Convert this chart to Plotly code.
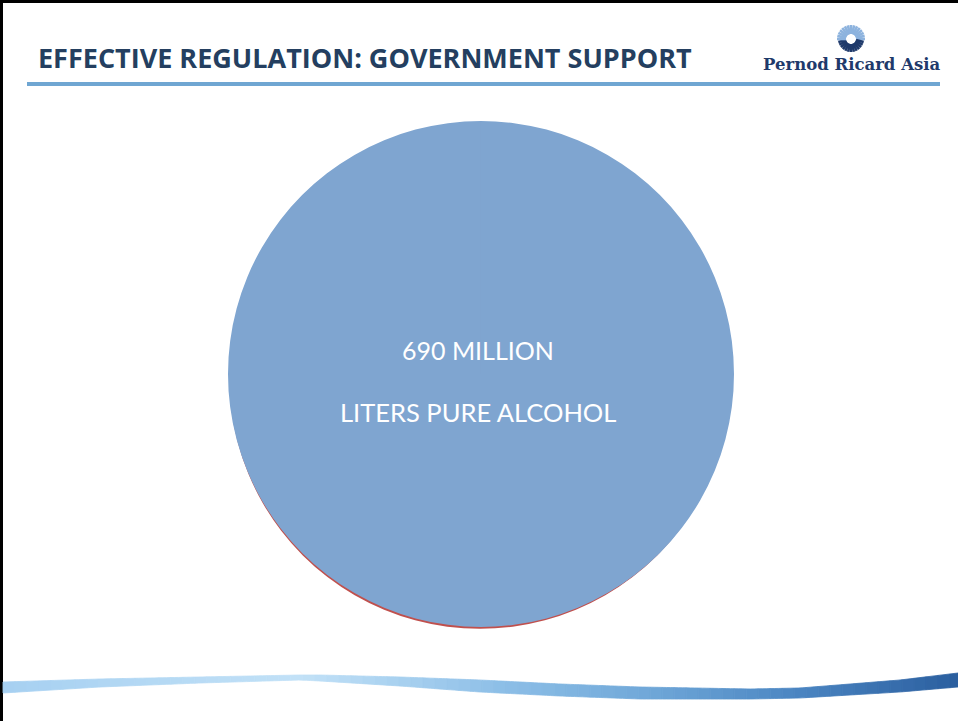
import numpy as np
import plotly.graph_objects as go

# ---- data ----
categories = ["Total consumption", "Other"]
values = [690, 0.0]
title_text = "EFFECTIVE REGULATION: GOVERNMENT SUPPORT"
label_lines = ["690 MILLION", "LITERS PURE ALCOHOL"]
logo_text = "Pernod Ricard Asia"

W, H = 958, 721
def px(x): return x / W
def py(y): return 1 - y / H

fig = go.Figure()

# thin red rim visible under the bottom edge
rc_x, rc_y, rr = 480.0, 378.2, 250.6
fig.add_trace(go.Pie(labels=categories, values=[values[0], 0.0001], sort=False,
                     marker=dict(colors=["#C0504D", "#C0504D"], line=dict(width=0)),
                     textinfo="none", hoverinfo="skip", showlegend=False,
                     domain=dict(x=[px(rc_x - rr), px(rc_x + rr)], y=[py(rc_y + rr), py(rc_y - rr)])))
fig.add_trace(go.Pie(labels=categories, values=[values[0], values[1] + 0.0001], sort=False,
                     marker=dict(colors=["#7FA5D0", "#C0504D"], line=dict(width=0)),
                     textinfo="none", hoverinfo="label+value", showlegend=False,
                     domain=dict(x=[px(228), px(734)], y=[py(627), py(121)])))

shapes = []
# slide frame (top & left)
shapes.append(dict(type="line", xref="paper", yref="paper", x0=0, x1=1, y0=py(1.5), y1=py(1.5),
                   line=dict(color="black", width=3)))
shapes.append(dict(type="line", xref="paper", yref="paper", x0=px(1.5), x1=px(1.5), y0=0, y1=1,
                   line=dict(color="black", width=3)))
# rule under title
shapes.append(dict(type="line", xref="paper", yref="paper", x0=px(27), x1=px(940), y0=py(84), y1=py(84),
                   line=dict(color="#6FA6D2", width=4)))

# logo sunburst
cx, cyl = 851, 39
for k in range(28):
    ang = 2 * np.pi * k / 28
    dx, dy = np.cos(ang), np.sin(ang)
    col = "#1F3A6B" if dy > 0.05 else "#8DB3DE"
    r0, r1 = (5, 13) if dy > 0.05 else (5, 14)
    shapes.append(dict(type="line", xref="paper", yref="paper",
                       x0=px(cx + r0 * dx), y0=py(cyl + r0 * dy), x1=px(cx + r1 * dx), y1=py(cyl + r1 * dy),
                       line=dict(color=col, width=2.6)))

# decorative swoosh at bottom
kx = np.array([3, 100, 200, 300, 320, 400, 480, 560, 640, 750, 800, 900, 958])
kt = np.array([682, 679, 677, 675, 675, 677, 680, 684, 687, 689, 688, 680, 673])
kb = np.array([693, 687, 683, 680, 681, 686, 692, 696, 699, 699, 698, 692, 687])
cxk = np.array([0, 300, 500, 650, 800, 958])
cols = np.array([[0xA6, 0xD0, 0xF1], [0xC2, 0xE1, 0xF7], [0x8D, 0xBF, 0xE7],
                 [0x6F, 0xA7, 0xD8], [0x4A, 0x84, 0xC1], [0x2A, 0x5E, 0x9E]])
xs = np.linspace(3, 958, 240)
tops = np.interp(xs, kx, kt)
bots = np.interp(xs, kx, kb)
nseg = 80
step = len(xs) // nseg
for i in range(nseg):
    a = i * step
    b = min(a + step + 1, len(xs))
    xm = xs[(a + b - 1) // 2]
    col = [np.interp(xm, cxk, cols[:, c]) for c in range(3)]
    col = "#%02x%02x%02x" % tuple(int(round(v)) for v in col)
    pts = [(xs[j], tops[j]) for j in range(a, b)] + [(xs[j], bots[j]) for j in range(b - 1, a - 1, -1)]
    path = "M " + " L ".join(f"{px(x):.5f},{py(y):.5f}" for x, y in pts) + " Z"
    shapes.append(dict(type="path", xref="paper", yref="paper", path=path,
                       fillcolor=col, line=dict(width=0.8, color=col), layer="above"))

annotations = [
    dict(text=f"<b>{title_text}</b>", x=px(36), y=py(58), xref="paper", yref="paper",
         xanchor="left", yanchor="middle", showarrow=False,
         font=dict(family="Open Sans, sans-serif", size=27, color="#243F60")),
    dict(text=f"<b>{logo_text}</b>", x=px(851), y=py(65), xref="paper", yref="paper",
         xanchor="center", yanchor="middle", showarrow=False,
         font=dict(family="DejaVu Serif, Liberation Serif, serif", size=16.5, color="#1F3A6B")),
    dict(text=label_lines[0], x=px(478), y=py(350), xref="paper", yref="paper",
         xanchor="center", yanchor="middle", showarrow=False,
         font=dict(family="Lato, Open Sans, sans-serif", size=25, color="white")),
    dict(text=label_lines[1], x=px(478), y=py(412), xref="paper", yref="paper",
         xanchor="center", yanchor="middle", showarrow=False,
         font=dict(family="Lato, Open Sans, sans-serif", size=25.5, color="white")),
]

fig.update_layout(width=W, height=H, margin=dict(l=0, r=0, t=0, b=0),
                  paper_bgcolor="white", plot_bgcolor="white",
                  shapes=shapes, annotations=annotations, showlegend=False)
fig.write_html("out.html", config={"displayModeBar": False},
               post_script="document.body.style.margin='0';document.body.style.overflow='hidden';")
